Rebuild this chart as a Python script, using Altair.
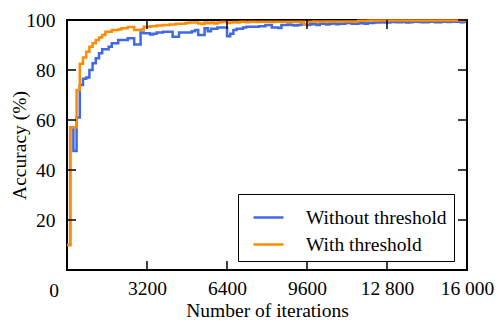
import altair as alt
import pandas as pd

# evaluation points (every 128 iterations) and final point
iterations = list(range(0, 16000, 128)) + [16000]

without_threshold = [
    10, 57, 47.6, 61, 74, 76.5, 77, 80, 82.7, 84.7,
    86.7, 88.3, 88.3, 89.3, 90.7, 90.7, 92, 92, 92, 92.7,
    92.7, 90.2, 90.2, 95, 94.7, 94.7, 94.2, 94.5, 95, 95,
    95.3, 95.3, 95.3, 93.3, 93.3, 95, 95, 95, 95, 95.5,
    96, 94, 94, 96.7, 95.5, 96.5, 96.5, 97, 97, 97,
    93.5, 94.5, 96, 96.5, 96.5, 97, 97.3, 97.3, 97.3, 97.3,
    97.5, 97.5, 98, 98, 97, 97, 96.8, 98, 98, 98.2,
    98, 97.8, 98, 98.2, 98.2, 98, 98.3, 98.3, 98, 98.5,
    98.5, 98.2, 98.5, 98.7, 98.3, 98.5, 98.5, 98.8, 98.8, 98.5,
    98.5, 98.7, 98.7, 98.5, 98.8, 98.8, 99.0, 99.0, 99.2, 99.0,
    99.0, 99.2, 99.2, 99.1, 99.1, 99.3, 99.0, 99.1, 99.3, 99.3,
    99.2, 99.1, 99.1, 99.3, 99.3, 99.1, 99.1, 99.3, 99.3, 99.2,
    99.3, 99.3, 99.3, 99.1, 99.3, 99.3,
]

with_threshold = [
    10, 57, 57, 72, 82.5, 85, 87.3, 89.3, 90.7, 92,
    93, 94, 95.3, 95.3, 96, 96, 96.2, 96.7, 96.7, 97.2,
    97.2, 96, 96, 96.2, 97.3, 97.3, 97.5, 97.5, 97.8, 97.8,
    98, 98, 98.2, 98.2, 98.5, 98.5, 98.5, 98.8, 99, 99,
    99, 98.6, 98.4, 99, 98.7, 99, 98.6, 99, 99.2, 99.2,
    98.8, 99, 99.2, 99, 99.3, 99.3, 99.1, 99.3, 99.3, 99.2,
    99.3, 99.3, 99.3, 99.3, 99.2, 99.3, 99.3, 99.3, 99.3, 99.3,
    99.3, 99.3, 99.3, 99.3, 98.2, 99.3, 99.3, 99.4, 99.4, 99.3,
    99.4, 99.4, 99.4, 99.4, 99.4, 99.4, 99.4, 99.4, 99.4, 99.4,
    99.4, 99.7, 99.7, 99.7, 99.8, 99.8, 99.8, 99.8, 99.8, 99.8,
    99.8, 99.8, 99.8, 99.8, 99.8, 99.8, 99.8, 99.8, 99.8, 99.8,
    99.8, 99.8, 99.8, 99.8, 99.8, 99.8, 99.8, 99.8, 99.8, 99.8,
    99.8, 99.8, 99.8, 99.8, 99.8, 99.8,
]

series_names = ["Without threshold", "With threshold"]
series_colors = ["#4169E1", "#FF8C00"]

x_ticks = [3200, 6400, 9600, 12800, 16000]
y_ticks = [20, 40, 60, 80, 100]

FONT = "Liberation Serif"
FS = 19.5
W, H = 400, 250

df_blue = pd.DataFrame({"it": iterations, "acc": without_threshold, "series": series_names[0]})
df_orange = pd.DataFrame({"it": iterations, "acc": with_threshold, "series": series_names[1]})

xscale = alt.Scale(domain=[0, 16000], nice=False, zero=False)
yscale = alt.Scale(domain=[0, 100], nice=False)
cscale = alt.Scale(domain=series_names, range=series_colors)

x_enc = alt.X("it:Q", scale=xscale,
              axis=alt.Axis(values=x_ticks, title="Number of iterations",
                            labelFlush=False, labelOverlap=False,
                            labelExpr="datum.value >= 10000 ? replace(format(datum.value, ','), ',', ' ') : format(datum.value, 'd')"))
y_enc = alt.Y("acc:Q", scale=yscale, axis=alt.Axis(values=y_ticks, title="Accuracy (%)",
                                                    labelFlush=False, labelOverlap=False))
color_enc = alt.Color("series:N", scale=cscale,
                      legend=alt.Legend(title=None, orient="none", legendX=171, legendY=174))

line_blue = alt.Chart(df_blue).mark_line(interpolate="step-after", strokeWidth=2.5).encode(
    x=x_enc, y=y_enc, color=color_enc)
line_orange = alt.Chart(df_orange).mark_line(interpolate="step-after", strokeWidth=2.5).encode(
    x=x_enc, y=y_enc, color=color_enc)

xt = pd.DataFrame({"v": x_ticks})
yt = pd.DataFrame({"v": y_ticks})
tick_style = dict(color="black", strokeWidth=1.5)
xb = alt.Chart(xt).mark_rule(**tick_style).encode(
    x=alt.X("v:Q", scale=xscale), y=alt.value(H), y2=alt.value(H - 9))
xtop = alt.Chart(xt).mark_rule(**tick_style).encode(
    x=alt.X("v:Q", scale=xscale), y=alt.value(0), y2=alt.value(9))
yl = alt.Chart(yt).mark_rule(**tick_style).encode(
    y=alt.Y("v:Q", scale=yscale), x=alt.value(0), x2=alt.value(9))
yr = alt.Chart(yt).mark_rule(**tick_style).encode(
    y=alt.Y("v:Q", scale=yscale), x=alt.value(W), x2=alt.value(W - 9))

zero_label = alt.Chart(pd.DataFrame({"t": ["0"]})).mark_text(
    font=FONT, fontSize=FS, dx=-13, dy=21, color="black").encode(
    x=alt.datum(0), y=alt.datum(0), text="t:N")

chart = alt.layer(line_blue, line_orange, xb, xtop, yl, yr, zero_label).properties(
    width=W, height=H,
    autosize=alt.AutoSizeParams(type="none"),
    padding={"left": 67, "top": 20, "right": 36, "bottom": 54},
).configure_view(stroke="black", strokeWidth=2).configure_axis(
    domain=False, ticks=False, grid=False,
    labelFont=FONT, labelFontSize=FS, labelColor="black",
    titleFont=FONT, titleFontSize=FS, titleFontWeight="normal", titleColor="black",
).configure_axisX(labelPadding=9, titlePadding=4).configure_axisY(
    labelPadding=12, titlePadding=-4
).configure_legend(
    strokeColor="black", fillColor="white", padding=7, cornerRadius=0,
    symbolType="stroke", symbolSize=900, symbolStrokeWidth=2.5, symbolOffset=7,
    labelFont=FONT, labelFontSize=19.5, labelColor="black", labelOffset=21,
    rowPadding=1,
)

chart.save("out.html", embed_options={"renderer": "svg", "actions": False})
